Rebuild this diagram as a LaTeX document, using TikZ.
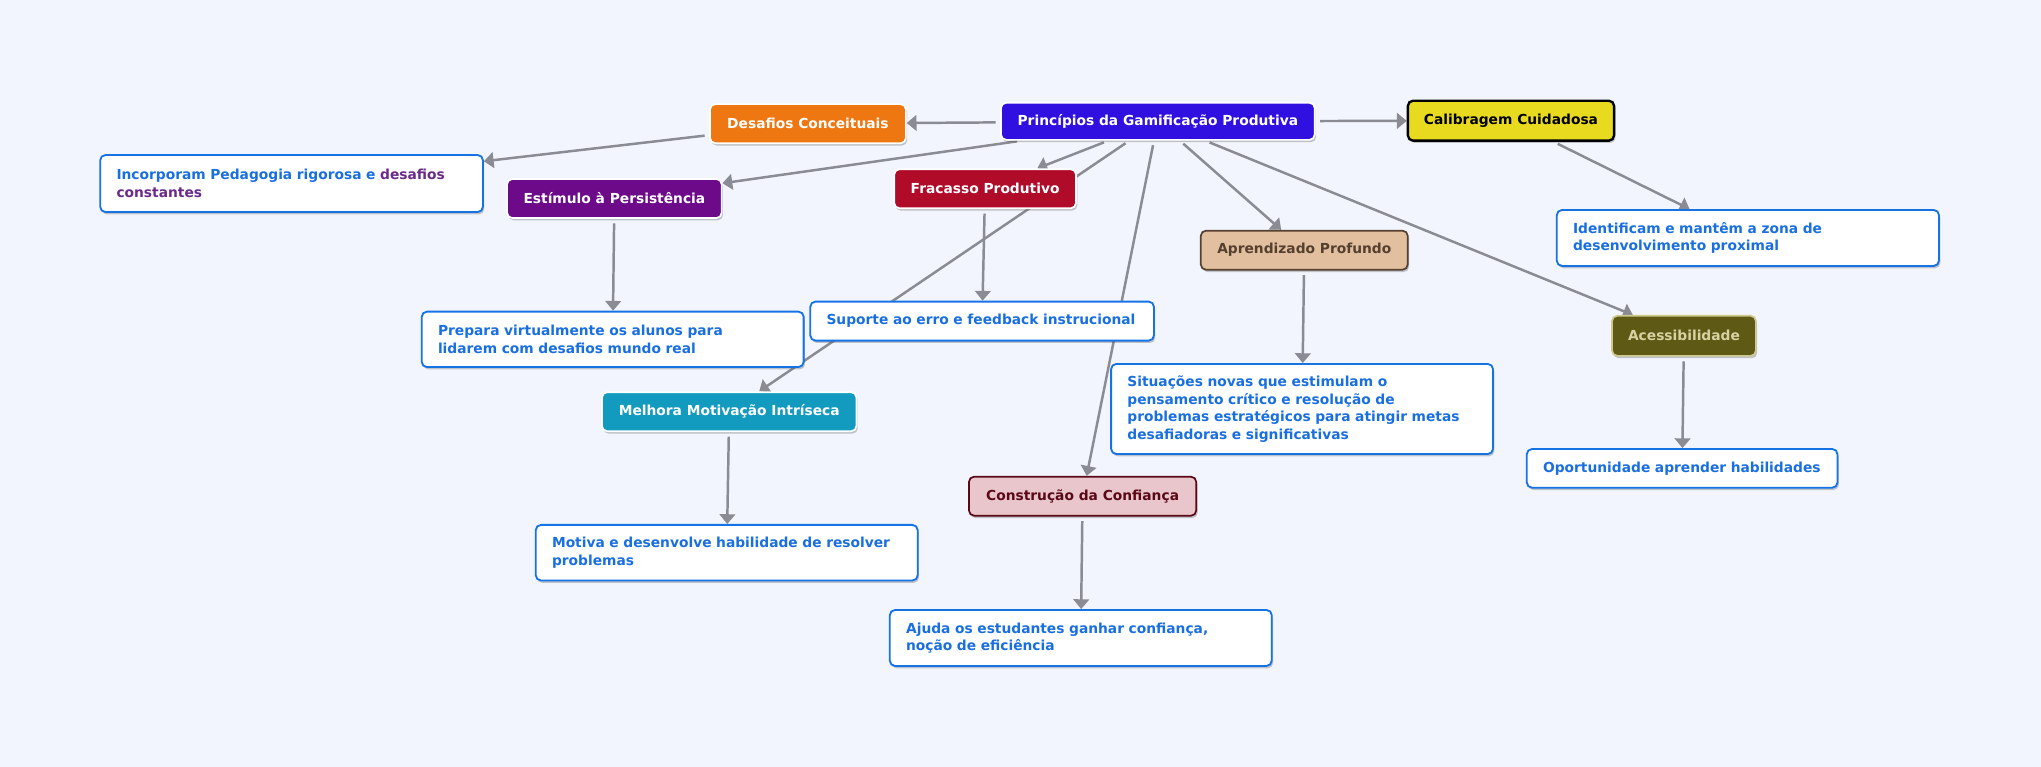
\documentclass[tikz,border=0pt]{standalone}
\usepackage{fontspec}
\setmainfont{DejaVu Sans}
\usetikzlibrary{arrows.meta, shadows}
\definecolor{bgblue}{HTML}{F2F5FE}
\definecolor{linkgray}{HTML}{8A8B93}
\definecolor{notetext}{HTML}{1A6FE0}
\definecolor{noteline}{HTML}{1673E6}
\definecolor{notepurple}{HTML}{6A2A8A}
\definecolor{rootblue}{HTML}{3010E0}
\definecolor{orange1}{HTML}{EE7711}
\definecolor{yellow1}{HTML}{E8DA1E}
\definecolor{purple1}{HTML}{6C0A8A}
\definecolor{red1}{HTML}{B00C2A}
\definecolor{tan1}{HTML}{E2BF9F}
\definecolor{brown1}{HTML}{55402F}
\definecolor{olive1}{HTML}{5E5A16}
\definecolor{khaki1}{HTML}{CFC98E}
\definecolor{khaki2}{HTML}{D8D2A2}
\definecolor{teal1}{HTML}{129BBF}
\definecolor{pink1}{HTML}{E8C6CB}
\definecolor{maroon1}{HTML}{5A0816}
\pgfdeclarelayer{back}
\pgfdeclarelayer{edges}
\pgfsetlayers{back,edges,main}

\begin{document}
\begin{tikzpicture}[x=1pt, y=-1pt,
  every node/.style={font=\bfseries\fontsize{10.6}{13.4}\selectfont},
  topic/.style={rounded corners=4pt, draw=white, line width=1.3pt, text=white,
    minimum height=30pt, inner sep=0pt,
    drop shadow={shadow xshift=1pt, shadow yshift=-1.8pt, opacity=0.3, fill=black!70}},
  note/.style={rounded corners=4pt, draw=noteline, line width=1.4pt, fill=white,
    text=notetext, align=left, inner xsep=12.5pt, inner ysep=0pt,
    drop shadow={shadow xshift=1pt, shadow yshift=-1.8pt, opacity=0.3, fill=black!70}},
  link/.style={draw=linkgray, line width=1.9pt, -{Triangle[length=7.5pt,width=12pt]}, shorten <=3.5pt}]
\useasboundingbox (0,0) rectangle (1568,589.2);
\begin{pgfonlayer}{back}
\fill[bgblue] (0,0) rectangle (1568,589.2);
\end{pgfonlayer}

\node[topic, fill=rootblue, minimum width=241pt, minimum height=28.5pt] (root) at (889.5,93.2) {Princípios da Gamificação Produtiva};
\node[topic, fill=orange1, minimum width=150.5pt] (desafios) at (620.7,95) {Desafios Conceituais};
\node[topic, fill=yellow1, draw=black, line width=1.8pt, text=black, minimum width=158.4pt, minimum height=30.7pt] (calib) at (1160.8,92.7) {Calibragem Cuidadosa};
\node[topic, fill=purple1, minimum width=164.8pt] (estimulo) at (472,152.5) {Estímulo à Persistência};
\node[topic, fill=red1, minimum width=139.6pt] (fracasso) at (756.8,145) {Fracasso Produtivo};
\node[topic, fill=tan1, draw=brown1, text=brown1, minimum width=159pt] (aprend) at (1002,192.2) {Aprendizado Profundo};
\node[topic, fill=olive1, draw=khaki1, text=khaki2, minimum width=110.5pt, minimum height=30.8pt] (acess) at (1293.7,258) {Acessibilidade};
\node[topic, fill=teal1, minimum width=195.5pt] (melhora) at (560.2,316.3) {Melhora Motivação Intríseca};
\node[topic, fill=pink1, draw=maroon1, text=maroon1, minimum width=174.6pt] (confianca) at (831.7,381.2) {Construção da Confiança};

\node[note, text width=269pt, minimum height=43.8pt] (incorp) at (224,141) {Incorporam Pedagogia rigorosa e \textcolor{notepurple}{desafios}\\\textcolor{notepurple}{constantes}};
\node[note, text width=268.4pt, minimum height=42.6pt] (prepara) at (470.7,260.7) {Prepara virtualmente os alunos para\\lidarem com desafios mundo real};
\node[note, text width=239pt, minimum height=30pt] (suporte) at (754.5,246.7) {Suporte ao erro e feedback instrucional};
\node[note, text width=268.6pt, minimum height=43pt] (identif) at (1342.8,182.8) {Identificam e mantêm a zona de\\desenvolvimento proximal};
\node[note, text width=268.4pt, minimum height=69.2pt] (situacoes) at (1000.3,314.2) {Situações novas que estimulam o\\pensamento crítico e resolução de\\problemas estratégicos para atingir metas\\desafiadoras e significativas};
\node[note, text width=213.7pt, minimum height=29.7pt] (oport) at (1292.3,359.8) {Oportunidade aprender habilidades};
\node[note, text width=268.4pt, minimum height=42.7pt] (motiva) at (558.3,424.6) {Motiva e desenvolve habilidade de resolver\\problemas};
\node[note, text width=268.4pt, minimum height=43pt] (ajuda) at (830.3,490.1) {Ajuda os estudantes ganhar confiança,\\noção de eficiência};

\begin{pgfonlayer}{edges}
\draw[link] (root) -- (desafios);
\draw[link] (root) -- (calib);
\draw[link] (root) -- (estimulo);
\draw[link] (root) -- (fracasso);
\draw[link] (root) -- (melhora);
\draw[link] (root) -- (confianca);
\draw[link] (root) -- (aprend);
\draw[link] (root) -- (acess);
\draw[link] (desafios) -- (incorp);
\draw[link] (calib) -- (identif);
\draw[link] (estimulo) -- (prepara);
\draw[link] (fracasso) -- (suporte);
\draw[link] (aprend) -- (situacoes);
\draw[link] (acess) -- (oport);
\draw[link] (melhora) -- (motiva);
\draw[link] (confianca) -- (ajuda);
\end{pgfonlayer}
\end{tikzpicture}
\end{document}
